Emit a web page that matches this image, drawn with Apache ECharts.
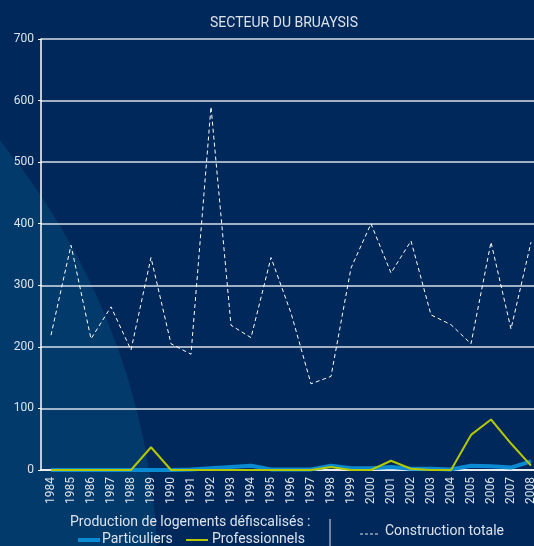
<!DOCTYPE html>
<html>
<head>
<meta charset="utf-8">
<script src="https://cdn.jsdelivr.net/npm/echarts@6/dist/echarts.min.js"></script>
<style>
  html, body { margin: 0; padding: 0; background: #00285a; overflow: hidden; }
  /* plot runs a little past the right edge in the original, so the canvas is wider than the window */
  #chart { width: 541px; height: 546px; }
</style>
</head>
<body>
<div id="chart"></div>
<script>
const years = ['1984', '1985', '1986', '1987', '1988', '1989', '1990', '1991', '1992', '1993', '1994', '1995', '1996',
  '1997', '1998', '1999', '2000', '2001', '2002', '2003', '2004', '2005', '2006', '2007', '2008']
const particuliers = [0, 0, 0, 0, 0, 0, 0, 1, 3, 5, 7, 1, 1, 1, 7, 3, 3, 5, 2, 2, 1, 7, 6, 4, 14]
const professionnels = [0, 0, 0, 0, 0, 37, 0, 0, 0, 0, 0, 0, 0, 0, 5, 0, 0, 15, 2, 0, 0, 57, 82, 43, 7]
const construction = [219, 365, 213, 265, 195, 345, 205, 188, 590, 235, 215, 345, 255, 140, 152, 328, 400, 320, 372,
  252, 236, 205, 370, 229, 370]
const yTicks = [0, 100, 200, 300, 400, 500, 600, 700]

const FONT = 'Roboto, "DejaVu Sans", sans-serif'
const TEXT = '#dbe2ec'

let chart = echarts.init(document.getElementById('chart'))
let option = {
  backgroundColor: '#00285a',
  animation: false,
  title: {
    text: 'SECTEUR DU BRUAYSIS',
    left: 279,
    textAlign: 'center',
    top: 11,
    textStyle: { color: TEXT, fontSize: 14, fontWeight: 'normal', fontFamily: FONT },
  },
  graphic: [
    {
      type: 'circle',
      z: -10,
      silent: true,
      shape: { cx: -532, cy: 580, r: 690 },
      style: { fill: '#023a6b' },
    },
    // legend block
    {
      type: 'text', left: 70, top: 515, silent: true,
      style: { text: 'Production de logements défiscalisés :', fill: TEXT, font: '14px ' + FONT },
    },
    {
      type: 'rect', silent: true,
      shape: { x: 78, y: 538, width: 22, height: 4 },
      style: { fill: '#0a8ad2' },
    },
    {
      type: 'text', left: 102, top: 532, silent: true,
      style: { text: 'Particuliers', fill: TEXT, font: '14px ' + FONT },
    },
    {
      type: 'line', silent: true,
      shape: { x1: 186, y1: 540, x2: 208, y2: 540 },
      style: { stroke: '#b4c800', lineWidth: 2 },
    },
    {
      type: 'text', left: 212, top: 532, silent: true,
      style: { text: 'Professionnels', fill: TEXT, font: '14px ' + FONT },
    },
    {
      type: 'line', silent: true,
      shape: { x1: 330, y1: 519, x2: 330, y2: 546 },
      style: { stroke: TEXT, lineWidth: 1 },
    },
    {
      type: 'line', silent: true,
      shape: { x1: 360, y1: 534, x2: 379, y2: 534 },
      style: { stroke: TEXT, lineWidth: 1, lineDash: [3, 2] },
    },
    {
      type: 'text', left: 385, top: 524, silent: true,
      style: { text: 'Construction totale', fill: TEXT, font: '14px ' + FONT },
    },
  ],
  grid: { left: 41, top: 39, right: 0, bottom: 76 },
  xAxis: {
    type: 'category',
    data: years,
    boundaryGap: true,
    axisLine: { lineStyle: { color: '#ffffff', width: 1.5 } },
    axisTick: { alignWithLabel: true, length: 3, lineStyle: { color: '#ffffff' } },
    axisLabel: { interval: 0, rotate: 90, margin: 7, color: TEXT, fontSize: 12, fontFamily: FONT },
  },
  yAxis: {
    type: 'value',
    min: 0,
    max: 700,
    interval: 100,
    axisLine: { show: true, lineStyle: { color: '#ffffff', width: 1.5 } },
    axisTick: { show: true, length: 3, lineStyle: { color: '#ffffff' } },
    axisLabel: {
      margin: 7, color: TEXT, fontSize: 12, fontFamily: FONT,
      formatter: (v) => (yTicks.indexOf(v) >= 0 ? String(v) : ''),
    },
    splitLine: { lineStyle: { color: '#d6deea', width: 1.5 } },
  },
  series: [
    {
      name: 'Particuliers',
      type: 'line',
      data: particuliers,
      showSymbol: false,
      lineStyle: { color: '#0a8ad2', width: 4 },
      z: 3,
    },
    {
      name: 'Professionnels',
      type: 'line',
      data: professionnels,
      showSymbol: false,
      lineStyle: { color: '#b4c800', width: 2 },
      z: 4,
    },
    {
      name: 'Construction totale',
      type: 'line',
      data: construction,
      showSymbol: false,
      lineStyle: { color: '#ffffff', width: 1, type: [4, 3] },
      z: 5,
    },
  ],
}
chart.setOption(option)
</script>
</body>
</html>
